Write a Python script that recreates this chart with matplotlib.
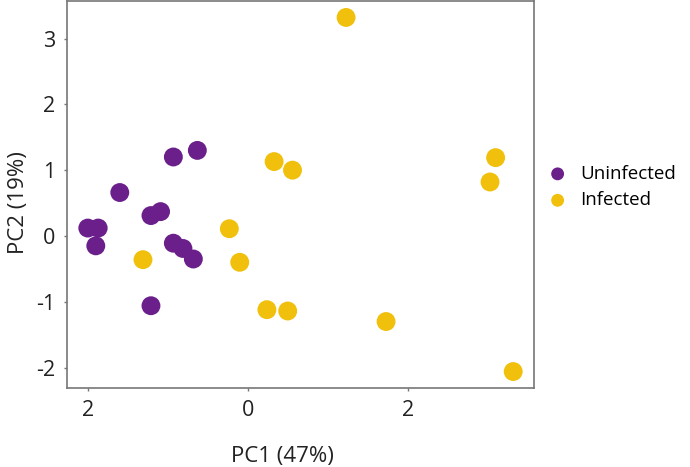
import numpy as np
import matplotlib.pyplot as plt
from matplotlib.ticker import FuncFormatter

plt.rcParams['font.family'] = ['Open Sans', 'DejaVu Sans']

# PCA scores
uninf_pc1 = [-2.00, -1.87, -1.90, -1.60, -1.21, -1.09, -0.93, -0.63, -0.93, -0.81, -0.68, -1.21]
uninf_pc2 = [0.12, 0.12, -0.15, 0.66, 0.31, 0.37, 1.20, 1.30, -0.11, -0.19, -0.35, -1.06]
inf_pc1 = [-1.31, -0.23, -0.10, 0.33, 0.56, 1.23, 3.10, 3.03, 0.24, 0.50, 1.73, 3.32]
inf_pc2 = [-0.36, 0.11, -0.40, 1.13, 1.00, 3.32, 1.19, 0.82, -1.12, -1.14, -1.30, -2.06]

xticks = [-2, 0, 2]
xticklabels = ["2", "0", "2"]
yticks = [-2, -1, 0, 1, 2, 3]

purple = "#6a1f8a"
yellow = "#f0c00c"

fig = plt.figure(figsize=(6.9, 4.67), dpi=100)
ax = fig.add_axes([67/690, 1-388/467, (534-67)/690, 387/467])

ax.scatter(uninf_pc1, uninf_pc2, s=185, color=purple, edgecolors='none', label="Uninfected")
ax.scatter(inf_pc1, inf_pc2, s=185, color=yellow, edgecolors='none', label="Infected")

ax.set_xlim(-2.26, 3.58)
ax.set_ylim(-2.31, 3.57)
ax.set_xticks(xticks)
ax.set_xticklabels(xticklabels)
ax.set_yticks(yticks)
ax.yaxis.set_major_formatter(FuncFormatter(lambda v, p: "%d" % v))
ax.tick_params(labelsize=15.5, length=2.5, width=1, color='#777777', labelcolor='#222222', pad=6)
for s in ax.spines.values():
    s.set_color('#777777')
    s.set_linewidth(1.2)

ax.set_xlabel("PC1 (47%)", fontsize=16, color='#222222')
ax.set_ylabel("PC2 (19%)", fontsize=16, color='#222222')
ax.xaxis.set_label_coords((282-67)/467, -(446-388)/387)
ax.yaxis.set_label_coords(-(67-29)/467, (388-203)/387)

fig.legend(loc='center left', bbox_to_anchor=(522/690, 1-187/467), frameon=False,
           fontsize=13.5, handletextpad=0.2, labelspacing=0.45, markerscale=0.68)

fig.savefig("out.png", dpi=100)
